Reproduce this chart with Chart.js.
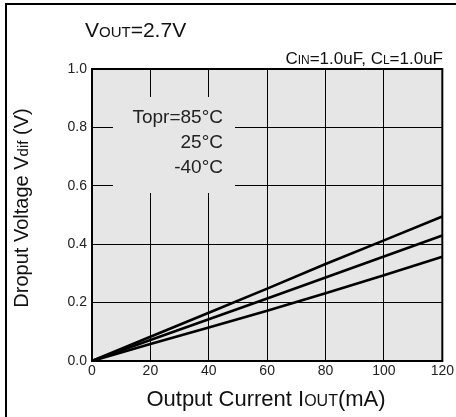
<!doctype html>
<html>

<head>
    <title>Dropout Voltage</title>
    <script src="https://cdn.jsdelivr.net/npm/chart.js"></script>
    <style>
        body { margin: 0; background: #fff; }
    </style>
</head>

<body>
    <canvas id="grafico" width="456" height="417"></canvas>

    <script>
    // valores
    const corrente = [0, 20, 40, 60, 80, 100, 120];
    const vdif85 = [0, 0.083, 0.165, 0.248, 0.332, 0.413, 0.495];
    const vdif25 = [0, 0.072, 0.143, 0.214, 0.286, 0.358, 0.43];
    const vdifM40 = [0, 0.058, 0.115, 0.172, 0.232, 0.294, 0.357];
    const rotulosTemp = ['Topr=85°C', '25°C', '-40°C'];

    const FONTE = '"Liberation Sans", Arial, sans-serif';

    // texto com pedacos menores (tipo versalete / subscrito)
    function textoMisto(ctx, partes, x, y, align) {
        var total = 0;
        partes.forEach(p => { ctx.font = p[1] + 'px ' + FONTE; total += ctx.measureText(p[0]).width; });
        var cx = align == 'right' ? x - total : (align == 'center' ? x - total / 2 : x);
        partes.forEach(p => {
            ctx.font = p[1] + 'px ' + FONTE;
            ctx.fillText(p[0], cx, y + (p[2] || 0));
            cx += ctx.measureText(p[0]).width;
        });
    }

    const extras = {
        id: 'extras',
        beforeDraw(chart) {
            const ctx = chart.ctx, a = chart.chartArea;
            ctx.save();
            ctx.fillStyle = '#fff';
            ctx.fillRect(0, 0, chart.width, chart.height);
            ctx.fillStyle = '#e6e6e6';
            ctx.fillRect(a.left, a.top, a.right - a.left, a.bottom - a.top);
            ctx.restore();
        },
        beforeDatasetsDraw(chart) {
            const ctx = chart.ctx, a = chart.chartArea;
            ctx.save();
            // caixa que esconde a grade atras dos rotulos
            ctx.fillStyle = '#e6e6e6';
            ctx.fillRect(113, 97, 122, 96);
            // moldura da area do grafico
            ctx.strokeStyle = '#000';
            ctx.lineWidth = 2;
            ctx.strokeRect(a.left, a.top, a.right - a.left, a.bottom - a.top);
            ctx.fillStyle = '#222';
            ctx.textBaseline = 'middle';
            ctx.textAlign = 'right';
            ctx.font = '19px ' + FONTE;
            ctx.fillText(rotulosTemp[0], 223, 118);
            ctx.fillText(rotulosTemp[1], 223, 143);
            ctx.fillText(rotulosTemp[2], 223, 168);
            ctx.restore();
        },
        afterDraw(chart) {
            const ctx = chart.ctx;
            ctx.save();
            // moldura externa (so topo e esquerda)
            ctx.strokeStyle = '#000';
            ctx.lineWidth = 2;
            ctx.beginPath();
            ctx.moveTo(6, chart.height);
            ctx.lineTo(6, 4);
            ctx.lineTo(chart.width, 4);
            ctx.stroke();

            ctx.fillStyle = '#111';
            ctx.textAlign = 'left';
            ctx.textBaseline = 'alphabetic';
            textoMisto(ctx, [['V', 21], ['OUT', 15], ['=2.7V', 21]], 85, 37, 'left');
            textoMisto(ctx, [['C', 17], ['IN', 12], ['=1.0uF, C', 17], ['L', 12], ['=1.0uF', 17]], 443, 64, 'right');
            textoMisto(ctx, [['Output Current I', 22], ['OUT', 16], ['(mA)', 22]], 266, 406, 'center');

            ctx.translate(28, 208);
            ctx.rotate(-Math.PI / 2);
            textoMisto(ctx, [['Droput Voltage V', 20], ['dif', 15], [' (V)', 20]], 0, 0, 'center');
            ctx.restore();
        }
    };

    var grafico = new Chart(document.getElementById('grafico').getContext('2d'), {
        type: 'line',
        data: {
            datasets: [{
                label: '85',
                data: corrente.map((c, i) => ({ x: c, y: vdif85[i] }))
            },
            {
                label: '25',
                data: corrente.map((c, i) => ({ x: c, y: vdif25[i] }))
            },
            {
                label: '-40',
                data: corrente.map((c, i) => ({ x: c, y: vdifM40[i] }))
            }]
        },
        options: {
            responsive: false,
            animation: false,
            layout: { padding: { left: 0, top: 69, right: 13, bottom: 0 } },
            elements: {
                line: { borderColor: '#000', borderWidth: 2.6, tension: 0 },
                point: { radius: 0 }
            },
            plugins: {
                legend: { display: false },
                tooltip: { enabled: false }
            },
            scales: {
                x: {
                    type: 'linear',
                    min: 0,
                    max: 120,
                    afterFit: s => { s.height = 56; },
                    ticks: {
                        stepSize: 20,
                        color: '#222',
                        font: { family: FONTE, size: 14 },
                        padding: 2
                    },
                    grid: { color: '#000', lineWidth: 1, drawTicks: false },
                    border: { color: '#000', width: 2 }
                },
                y: {
                    min: 0,
                    max: 1,
                    afterFit: s => { s.width = 92; },
                    ticks: {
                        stepSize: 0.2,
                        color: '#222',
                        font: { family: FONTE, size: 14 },
                        padding: 5,
                        callback: v => v.toFixed(1)
                    },
                    grid: { color: '#000', lineWidth: 1, drawTicks: false },
                    border: { color: '#000', width: 2 }
                }
            }
        },
        plugins: [extras]
    });

    </script>
</body>

</html>
